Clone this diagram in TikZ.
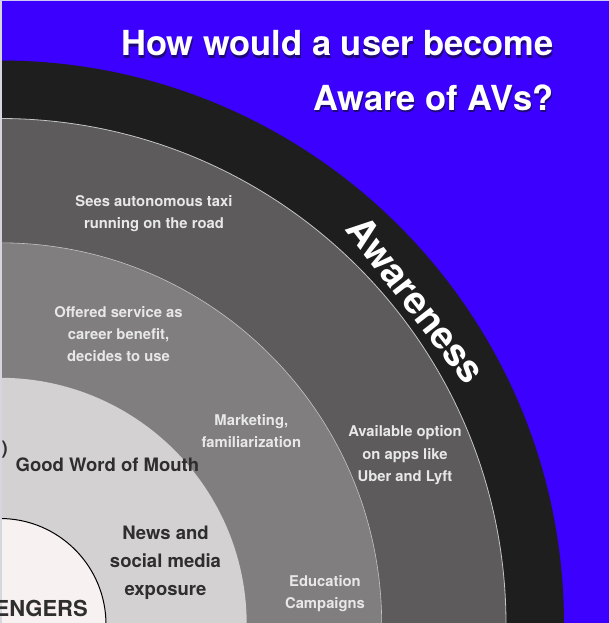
\documentclass[tikz,border=0pt]{standalone}
\usepackage{fontspec}
\setmainfont{TeX Gyre Heros}
\definecolor{bgblue}{HTML}{3C00FF}
\definecolor{shadowblue}{HTML}{1F0A7A}
\definecolor{ringblack}{HTML}{1E1E1E}
\definecolor{ringdark}{HTML}{5D5B5C}
\definecolor{ringmid}{HTML}{807E7F}
\definecolor{ringlight}{HTML}{D3D1D2}
\definecolor{core}{HTML}{F8F1F1}
\definecolor{ringline}{HTML}{C4C4C4}
\definecolor{labelgrey}{HTML}{E8E8E8}
\definecolor{darktext}{HTML}{2E2E2E}
\definecolor{edgegrey}{HTML}{D6D6DC}
\definecolor{edgetop}{HTML}{CFC8F6}
% heading text with a shadow set underneath in the same box
\newcommand{\shadowed}[1]{\makebox[0pt][l]{\hspace{0.9pt}\raisebox{-2.1pt}{\textcolor{shadowblue}{#1}}}#1}
\begin{document}
\begin{tikzpicture}[x=1pt,y=-1pt,
  title/.style={inner sep=0pt, anchor=base east, text=white,
    font=\fontsize{34.5}{40}\selectfont\bfseries},
  lbl/.style={inner sep=0pt, align=center, text=labelgrey,
    font=\fontsize{14.8}{22.2}\selectfont\bfseries},
  dlbl/.style={inner sep=0pt, align=center, text=darktext,
    font=\fontsize{18.5}{28}\selectfont\bfseries},
  ringtitle/.style={inner sep=0pt, anchor=base, text=white,
    font=\fontsize{38}{42}\selectfont\bfseries}]
\useasboundingbox (0,0) rectangle (609,623);
\fill[bgblue] (0,0) rectangle (609,623);

% concentric rings around the lower left corner
\begin{scope}
  \clip (0,0) rectangle (609,623);
  \coordinate (O) at (0,624.5);
  \fill[ringblack] (O) circle[radius=564];
  \filldraw[fill=ringdark, draw=ringline, line width=0.8pt] (O) circle[radius=506];
  \filldraw[fill=ringmid, draw=ringline, line width=0.6pt] (O) circle[radius=381.7];
  \fill[ringlight] (O) circle[radius=246.7];
  \filldraw[fill=core, draw=black, line width=1pt] (O) circle[radius=106];
\end{scope}

% thin frame on the left and top edges
\fill[edgegrey] (0,0) rectangle (2.2,623);
\fill[edgetop] (0,0) rectangle (609,1.3);

% heading
\node[title] (t1) at (554,56) {\shadowed{How would a user become}};
\node[title] (t2) at (554,110.7) {\shadowed{Aware of AVs?}};

% ring name
\node[ringtitle, rotate=-52] (aware) at (405.5,307.8) {Awareness};

% light labels in the grey rings
\node[lbl] (taxi) at (154,213.3) {Sees autonomous taxi\\running on the road};
\node[lbl] (career) at (118.5,334.1) {Offered service as\\career benefit,\\decides to use};
\node[lbl] (market) at (251.3,431.1) {Marketing,\\familiarization};
\node[lbl] (apps) at (405,455.3) {Available option\\on apps like\\Uber and Lyft};
\node[lbl] (edu) at (325,593.2) {Education\\Campaigns};

% dark labels in the light ring
\node[dlbl, anchor=west] (mouth) at (15.5,464.5) {Good Word of Mouth};
\node[dlbl, anchor=east] (paren) at (8,450) {)};
\node[dlbl] (news) at (165.5,562.3) {News and\\social media\\exposure};
\node[dlbl, anchor=east, font=\fontsize{22}{26}\selectfont\bfseries] (pass) at (88,608.3) {ENGERS};
\end{tikzpicture}
\end{document}
